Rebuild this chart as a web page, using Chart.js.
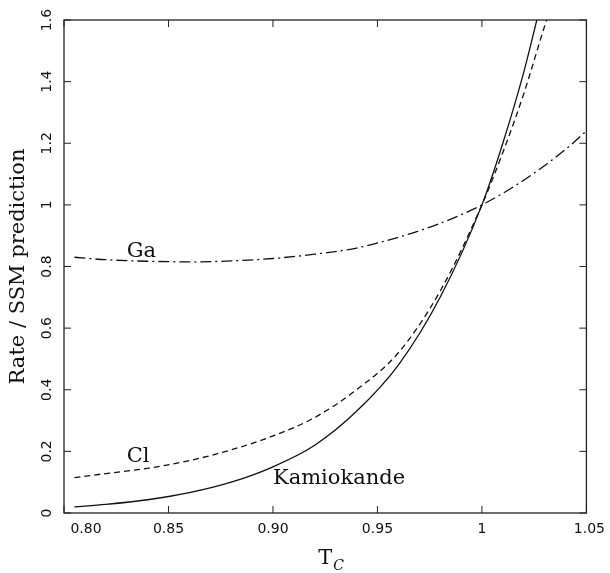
<!DOCTYPE html>
<html>
<head>
<meta charset="utf-8">
<script src="https://cdn.jsdelivr.net/npm/chart.js@4.4.1/dist/chart.umd.min.js"></script>
<style>
  html, body { margin: 0; padding: 0; background: #fff; }
  #wrap { width: 610px; height: 573px; }
</style>
</head>
<body>
<div id="wrap"><canvas id="rate-chart"></canvas></div>
<script>
// values: rate / SSM prediction vs central temperature T_C
const tcKamiokande   = [0.805, 0.82, 0.84, 0.86, 0.88, 0.90, 0.92, 0.94, 0.96, 0.98, 1.00, 1.01, 1.02, 1.027];
const rateKamiokande = [0.020, 0.028, 0.043, 0.066, 0.100, 0.150, 0.220, 0.330, 0.480, 0.700, 1.000, 1.200, 1.430, 1.620];

const tcCl   = [0.805, 0.82, 0.84, 0.86, 0.88, 0.90, 0.92, 0.94, 0.96, 0.98, 1.00, 1.01, 1.02, 1.03, 1.032];
const rateCl = [0.115, 0.128, 0.145, 0.170, 0.205, 0.250, 0.310, 0.400, 0.520, 0.720, 1.000, 1.170, 1.360, 1.580, 1.620];

const tcGa   = [0.805, 0.82, 0.84, 0.86, 0.88, 0.90, 0.92, 0.94, 0.96, 0.98, 1.00, 1.02, 1.04, 1.05];
const rateGa = [0.830, 0.822, 0.817, 0.815, 0.818, 0.826, 0.840, 0.860, 0.895, 0.940, 1.000, 1.080, 1.180, 1.240];

const xTickValues = [0.80, 0.85, 0.90, 0.95, 1.00, 1.05];
const xTickLabels = ['0.80', '0.85', '0.90', '0.95', '1', '1.05'];
const yTickValues = [0, 0.2, 0.4, 0.6, 0.8, 1.0, 1.2, 1.4, 1.6];
const yTickLabels = ['0', '0.2', '0.4', '0.6', '0.8', '1', '1.2', '1.4', '1.6'];

// curve labels placed in data coordinates
const curveNotes = [
  { text: 'Ga', x: 0.830, y: 0.832 },
  { text: 'Cl', x: 0.830, y: 0.165 },
  { text: 'Kamiokande', x: 0.900, y: 0.095 }
];

function pts(xs, ys) {
  return xs.map((x, i) => ({ x: x, y: ys[i] }));
}

const serif = 'DejaVu Serif';
const sans = 'DejaVu Sans';
const ink = '#111';

// frame with inward ticks, curve labels and the subscript of T_C
const framePlugin = {
  id: 'frame',
  beforeDraw(chart) {
    // first x label sits clear of the corner, as in the original
    const items = chart.scales.x.getLabelItems();
    if (items && items.length && !items.shifted) {
      const first = items[0].options || items[0];
      const last = items[items.length - 1].options || items[items.length - 1];
      if (first.translation) first.translation[0] += 22;
      if (last.translation) last.translation[0] += 3;
      items.shifted = true;
    }
  },
  afterDatasetsDraw(chart) {
    const ctx = chart.ctx;
    const a = chart.chartArea;
    const xs = chart.scales.x;
    const ys = chart.scales.y;
    const len = 7;
    ctx.save();
    ctx.strokeStyle = '#222';
    ctx.lineWidth = 1.3;
    ctx.strokeRect(a.left, a.top, a.right - a.left, a.bottom - a.top);
    ctx.lineWidth = 1;
    ctx.beginPath();
    xTickValues.forEach(v => {
      const px = xs.getPixelForValue(v);
      ctx.moveTo(px, a.bottom); ctx.lineTo(px, a.bottom - len);
      ctx.moveTo(px, a.top); ctx.lineTo(px, a.top + len);
    });
    yTickValues.forEach(v => {
      const py = ys.getPixelForValue(v);
      ctx.moveTo(a.left, py); ctx.lineTo(a.left + len, py);
      ctx.moveTo(a.right, py); ctx.lineTo(a.right - len, py);
    });
    ctx.stroke();

    ctx.fillStyle = ink;
    ctx.font = '21px "' + serif + '"';
    ctx.textAlign = 'left';
    ctx.textBaseline = 'alphabetic';
    curveNotes.forEach(n => {
      ctx.fillText(n.text, xs.getPixelForValue(n.x), ys.getPixelForValue(n.y));
    });

    // subscript C after the axis title "T"
    const cx = (a.left + a.right) / 2;
    ctx.font = '21px "' + serif + '"';
    const tw = ctx.measureText('T').width;
    const titleMid = xs.bottom - 2 - 21 * 1.2 / 2;
    ctx.font = 'italic 14px "' + serif + '"';
    ctx.textBaseline = 'middle';
    ctx.fillText('C', cx + tw / 2 + 1, titleMid + 8);
    ctx.restore();
  }
};

new Chart(document.getElementById('rate-chart'), {
  type: 'line',
  data: {
    datasets: [
      {
        label: 'Kamiokande',
        data: pts(tcKamiokande, rateKamiokande),
        borderColor: ink,
        borderWidth: 1.3,
        pointRadius: 0,
        cubicInterpolationMode: 'monotone',
        fill: false
      },
      {
        label: 'Cl',
        data: pts(tcCl, rateCl),
        borderColor: ink,
        borderWidth: 1.3,
        borderDash: [6, 4],
        pointRadius: 0,
        cubicInterpolationMode: 'monotone',
        fill: false
      },
      {
        label: 'Ga',
        data: pts(tcGa, rateGa),
        borderColor: ink,
        borderWidth: 1.3,
        borderDash: [11, 4, 2, 4],
        pointRadius: 0,
        cubicInterpolationMode: 'monotone',
        fill: false
      }
    ]
  },
  options: {
    responsive: true,
    maintainAspectRatio: false,
    animation: false,
    layout: { padding: { left: 4, right: 21, top: 20, bottom: 0 } },
    plugins: {
      legend: { display: false },
      tooltip: { enabled: false }
    },
    scales: {
      x: {
        type: 'linear',
        min: 0.80,
        max: 1.05,
        afterBuildTicks: scale => { scale.ticks = xTickValues.map(v => ({ value: v })); },
        grid: { display: false, drawTicks: false },
        border: { display: false },
        ticks: {
          padding: 8,
          color: ink,
          font: { family: sans, size: 14 },
          maxRotation: 0,
          callback: (v, i) => xTickLabels[i]
        },
        title: {
          display: true,
          text: 'T',
          color: ink,
          font: { family: serif, size: 21 },
          padding: { top: 0, bottom: 2 }
        }
      },
      y: {
        type: 'linear',
        min: 0,
        max: 1.6,
        afterBuildTicks: scale => { scale.ticks = yTickValues.map(v => ({ value: v })); },
        grid: { display: false, drawTicks: false },
        border: { display: false },
        ticks: {
          padding: 6,
          minRotation: 90,
          maxRotation: 90,
          crossAlign: 'center',
          color: ink,
          font: { family: sans, size: 14 },
          callback: (v, i) => yTickLabels[i]
        },
        title: {
          display: true,
          text: 'Rate / SSM prediction',
          color: ink,
          font: { family: serif, size: 21 },
          padding: { top: 2, bottom: 4 }
        }
      }
    }
  },
  plugins: [framePlugin]
});
</script>
</body>
</html>
